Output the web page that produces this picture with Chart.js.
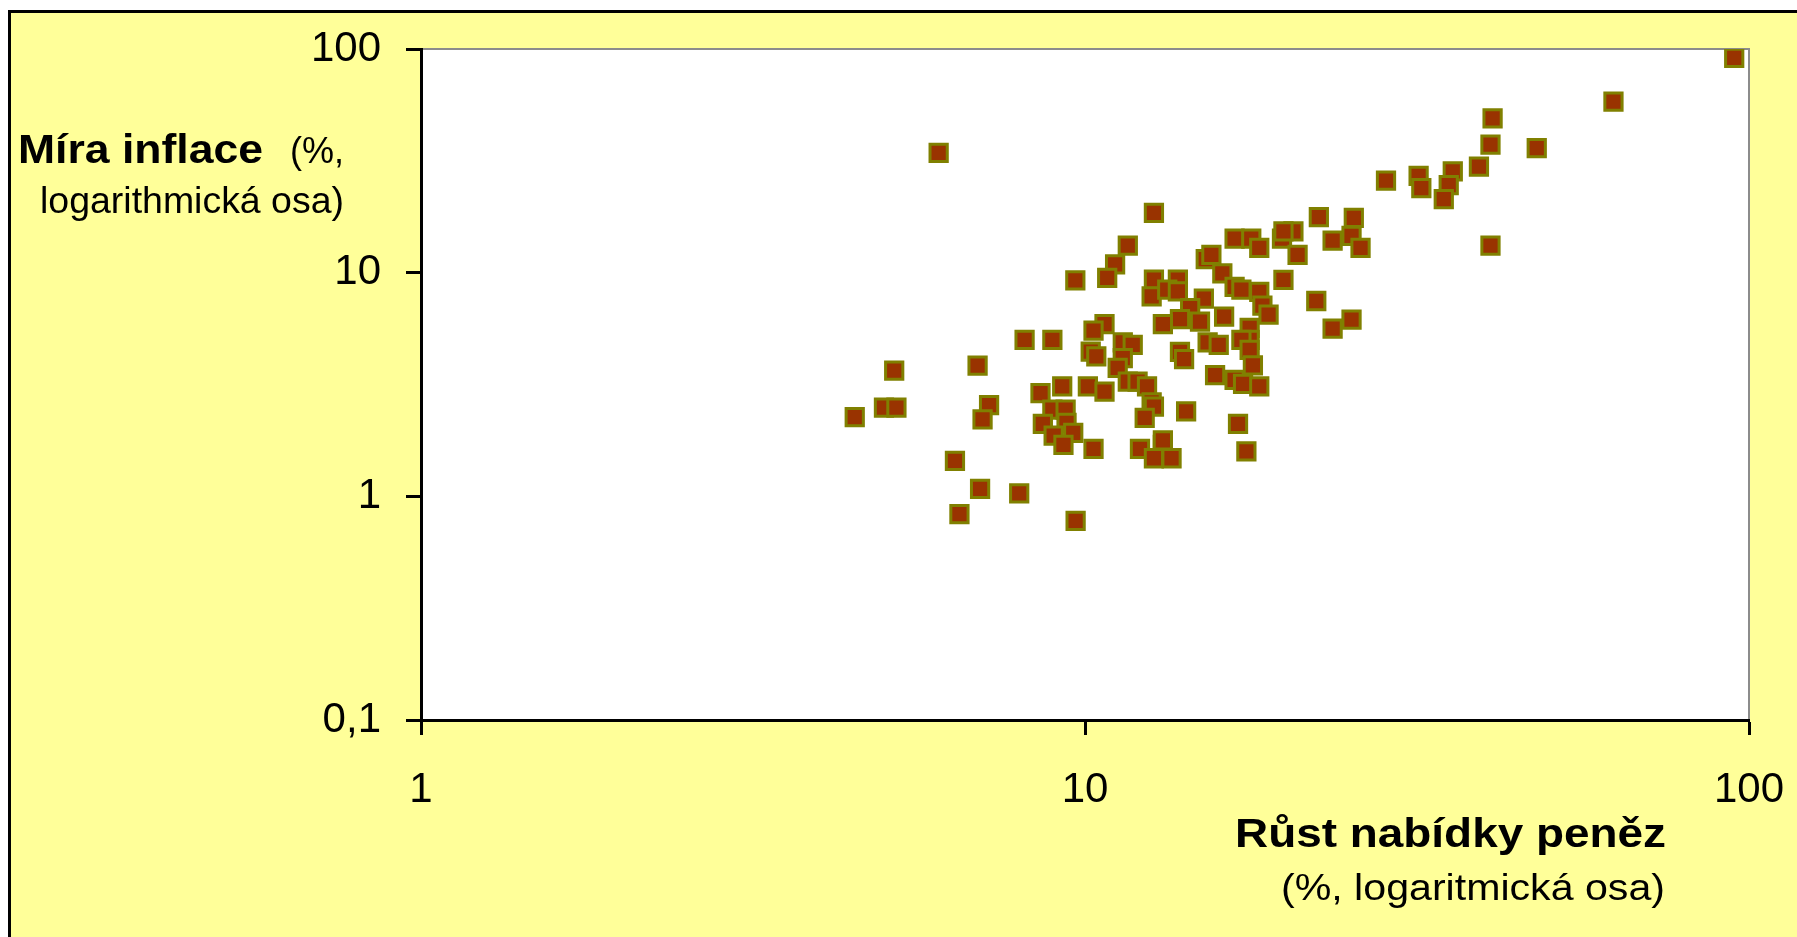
<!DOCTYPE html>
<html>
<head>
<meta charset="utf-8">
<script src="https://cdn.jsdelivr.net/npm/chart.js@4.4.1/dist/chart.umd.min.js"></script>
<style>
  html, body { margin: 0; padding: 0; background: #fff; overflow: hidden; }
  #wrap { width: 1797px; height: 937px; position: relative; }
</style>
</head>
<body>
<div id="wrap"><canvas id="myChart"></canvas></div>
<script>
// Money supply growth (x, %) and inflation (y, %), one entry per country
const moneyGrowth = [
  95.0, 62.5, 41.1, 40.8, 47.9, 39.2, 35.8, 35.3, 34.7, 31.8,
  32.1, 28.4, 25.4, 25.2, 26.0, 40.8, 6.02, 12.7, 22.5, 16.8,
  17.8, 18.3, 20.6, 19.8, 20.9, 23.6, 11.6, 11.1, 9.67, 10.8,
  12.7, 13.8, 12.6, 13.3, 13.8, 15.2, 15.5, 16.1, 16.8, 17.2,
  18.3, 19.9, 18.5, 18.9, 22.3, 23.6, 25.2, 15.1, 14.4, 13.9,
  13.1, 14.9, 16.2, 17.7, 17.7, 17.2, 17.7, 17.9, 15.3, 15.9,
  13.9, 14.1, 15.7, 16.8, 17.3, 18.3, 14.2, 17.0, 17.5, 8.11,
  8.93, 10.7, 10.3, 11.4, 11.8, 10.2, 10.4, 11.4, 11.2, 8.57,
  9.24, 10.1, 10.7, 11.6, 12.0, 12.4, 12.6, 12.7, 8.93, 9.35,
  12.3, 5.16, 6.89, 4.50, 4.98, 5.20, 7.17, 7.01, 6.37, 6.95,
  6.47, 7.96, 9.68, 8.64, 9.38, 9.60, 8.97, 9.28, 10.3, 12.1,
  13.1, 13.1, 12.7, 13.5, 19.9
];
const inflation = [
  91.3, 58.1, 49.0, 37.4, 36.0, 29.8, 28.4, 24.6, 21.3, 27.1,
  23.9, 25.8, 17.6, 14.6, 12.9, 13.2, 34.3, 18.5, 17.7, 14.2,
  14.2, 12.9, 15.3, 14.2, 12.0, 13.9, 13.2, 10.9, 9.24, 9.47,
  9.31, 9.31, 7.83, 8.39, 8.25, 11.5, 12.0, 9.93, 8.63, 8.40,
  8.20, 9.28, 7.12, 6.49, 7.47, 5.62, 6.16, 7.65, 6.95, 6.20,
  5.89, 6.04, 6.36, 5.66, 5.01, 5.01, 4.52, 3.85, 4.88, 4.76,
  4.42, 4.11, 3.48, 3.32, 3.18, 3.10, 2.40, 2.11, 1.59, 5.00,
  5.00, 5.89, 5.50, 4.88, 4.76, 4.44, 4.22, 4.15, 3.75, 2.89,
  3.10, 3.10, 2.94, 3.26, 3.26, 3.10, 2.63, 2.52, 2.44, 2.44,
  2.24, 3.65, 3.84, 2.26, 2.49, 2.49, 2.56, 2.21, 1.44, 1.08,
  0.832, 1.03, 0.777, 2.11, 2.13, 1.92, 1.87, 1.70, 1.63, 1.63,
  1.70, 1.78, 1.48, 1.48, 15.3
];

// Axis ticks (log scales) and their printed labels
const xTicks = [1, 10, 100];
const xTickLabels = ['1', '10', '100'];
const yTicks = [0.1, 1, 10, 100];
const yTickLabels = ['0,1', '1', '10', '100'];

const FONT = 'Liberation Sans, Arial, sans-serif';

// yellow frame + white plot area with grey top/right edges
const background = {
  id: 'background',
  beforeDraw(chart) {
    const { ctx, chartArea: a, width, height } = chart;
    ctx.save();
    ctx.fillStyle = '#ffffff';
    ctx.fillRect(0, 0, width, height);
    ctx.fillStyle = '#ffff99';
    ctx.fillRect(8, 10, width - 8, height - 10);
    ctx.strokeStyle = '#000';
    ctx.lineWidth = 3;
    ctx.beginPath();
    ctx.moveTo(9.5, height);
    ctx.lineTo(9.5, 11.5);
    ctx.lineTo(width, 11.5);
    ctx.stroke();
    ctx.fillStyle = '#ffffff';
    ctx.fillRect(a.left, a.top, a.right - a.left, a.bottom - a.top);
    ctx.strokeStyle = '#8c8c8c';
    ctx.lineWidth = 2;
    ctx.beginPath();
    ctx.moveTo(a.left, a.top);
    ctx.lineTo(a.right, a.top);
    ctx.lineTo(a.right, a.bottom);
    ctx.stroke();
    ctx.restore();
  }
};

// draw text stretched to a given width (the source font is a bit wider than Arial)
function fitText(ctx, text, font, x, y, w, align) {
  ctx.font = font;
  const sx = w / ctx.measureText(text).width;
  ctx.save();
  ctx.translate(align === 'right' ? x - w : x, y);
  ctx.scale(sx, 1);
  ctx.textAlign = 'left';
  ctx.textBaseline = 'alphabetic';
  ctx.fillStyle = '#000';
  ctx.fillText(text, 0, 0);
  ctx.restore();
}

const titles = {
  id: 'titles',
  afterDraw(chart) {
    const ctx = chart.ctx;
    fitText(ctx, 'Míra inflace', 'bold 40px ' + FONT, 18, 163, 245, 'left');
    fitText(ctx, '(%,', '36px ' + FONT, 344, 163, 54, 'right');
    fitText(ctx, 'logarithmická osa)', '36px ' + FONT, 344, 213, 304, 'right');
    fitText(ctx, 'Růst nabídky peněz', 'bold 40px ' + FONT, 1666, 847, 431, 'right');
    fitText(ctx, '(%, logaritmická osa)', '36px ' + FONT, 1665, 900, 384, 'right');
  }
};

const ctx = document.getElementById('myChart').getContext('2d');
const chart = new Chart(ctx, {
  type: 'scatter',
  data: {
    datasets: [{
      data: moneyGrowth.map((x, i) => ({ x: x, y: inflation[i] })),
      pointStyle: 'rect',
      pointRadius: 12.2,
      pointHoverRadius: 12.2,
      pointBorderWidth: 3,
      pointBackgroundColor: '#993300',
      pointBorderColor: '#808000'
    }]
  },
  options: {
    responsive: true,
    maintainAspectRatio: false,
    animation: false,
    layout: { padding: { top: 49, right: 48, bottom: 0, left: 0 } },
    plugins: {
      legend: { display: false },
      tooltip: { enabled: false }
    },
    scales: {
      x: {
        type: 'logarithmic',
        min: 1,
        max: 100,
        afterBuildTicks: s => { s.ticks = xTicks.map(v => ({ value: v })); },
        afterFit: s => { s.height = 217; s.paddingLeft = 0; s.paddingRight = 0; },
        ticks: {
          callback: (v, i) => xTickLabels[i],
          font: { family: FONT, size: 42 },
          color: '#000',
          padding: 30,
          autoSkip: false,
          maxRotation: 0
        },
        grid: { drawOnChartArea: false, tickLength: 15, tickWidth: 3, tickColor: '#000' },
        border: { display: true, color: '#000', width: 3 }
      },
      y: {
        type: 'logarithmic',
        min: 0.1,
        max: 100,
        afterBuildTicks: s => { s.ticks = yTicks.map(v => ({ value: v })); },
        afterFit: s => { s.width = 421; s.paddingTop = 0; s.paddingBottom = 0; },
        ticks: {
          callback: (v, i) => yTickLabels[i],
          font: { family: FONT, size: 42 },
          color: '#000',
          padding: 25,
          autoSkip: false
        },
        grid: { drawOnChartArea: false, tickLength: 15, tickWidth: 3, tickColor: '#000' },
        border: { display: true, color: '#000', width: 3 }
      }
    }
  },
  plugins: [background, titles]
});
</script>
</body>
</html>
